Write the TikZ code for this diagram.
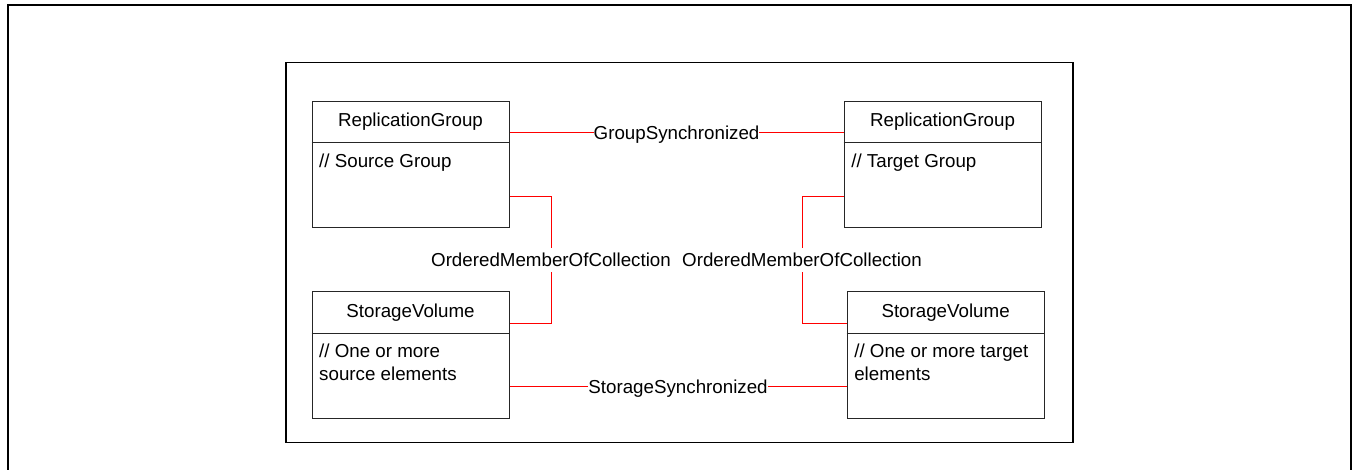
\documentclass[tikz,border=0pt]{standalone}
\usepackage{fontspec}
\setmainfont{Liberation Sans}

\begin{document}
\begin{tikzpicture}[x=0.5pt,y=-0.5pt,
  umlbox/.style={draw=black!85,line width=0.5pt,minimum width=98.5pt,minimum height=63.25pt,inner sep=0pt},
  boxtitle/.style={inner sep=0pt},
  boxbody/.style={anchor=base west,align=left,inner sep=0pt},
  assoc/.style={draw=red,line width=0.5pt},
  assoclabel/.style={fill=white,inner sep=0pt,text height=6.7pt,text depth=0pt,minimum height=11.85pt}]
\fontsize{9.375pt}{11.2pt}\selectfont
\useasboundingbox (0,0) rectangle (1353,470);
\draw[line width=1.15pt] (7.8,470) -- (7.8,5.3) -- (1351.3,5.3) -- (1351.3,470);
\draw[line width=0.7pt] (286,62.5) rectangle (1073,442.5);
% classes
\node[umlbox] (srcgrp) at (410.5,164.7) {};
\node[umlbox] (tgtgrp) at (942.6,164.7) {};
\node[umlbox] (srcvol) at (410.5,355.2) {};
\node[umlbox] (tgtvol) at (945.6,355.2) {};
\foreach \b in {srcgrp,tgtgrp,srcvol,tgtvol}
  \draw[draw=black!85,line width=0.5pt] ([yshift=-21pt]\b.north west) -- ([yshift=-21pt]\b.north east);
\node[boxtitle] (srcgrptitle) at ([yshift=-10.5pt]srcgrp.north) {ReplicationGroup};
\node[boxtitle] (tgtgrptitle) at ([yshift=-10.5pt]tgtgrp.north) {ReplicationGroup};
\node[boxtitle] (srcvoltitle) at ([yshift=-10.5pt]srcvol.north) {StorageVolume};
\node[boxtitle] (tgtvoltitle) at ([yshift=-10.5pt]tgtvol.north) {StorageVolume};
\node[boxbody] (srcgrpbody) at ([xshift=3.65pt,yshift=-33.2pt]srcgrp.north west) {// Source Group};
\node[boxbody] (tgtgrpbody) at ([xshift=3.65pt,yshift=-33.2pt]tgtgrp.north west) {// Target Group};
\node[boxbody] (srcvolbody) at ([xshift=3.65pt,yshift=-44.4pt]srcvol.north west) {// One or more\\source elements};
\node[boxbody] (tgtvolbody) at ([xshift=3.65pt,yshift=-44.4pt]tgtvol.north west) {// One or more target\\elements};
% associations
\draw[assoc] (srcgrp.east |- 0,133) -- node[assoclabel] (grpsync) {GroupSynchronized} (tgtgrp.west |- 0,133);
\draw[assoc] (srcvol.east |- 0,386.5) -- node[assoclabel] (storsync) {StorageSynchronized} (tgtvol.west |- 0,386.5);
\node[assoclabel] (srcmember) at (551,260) {OrderedMemberOfCollection};
\node[assoclabel] (tgtmember) at (802,260) {OrderedMemberOfCollection};
\draw[assoc] (srcgrp.east |- 0,197) -| (srcmember);
\draw[assoc] (srcmember) |- (srcvol.east |- 0,323);
\draw[assoc] (tgtgrp.west |- 0,197) -| (tgtmember);
\draw[assoc] (tgtmember) |- (tgtvol.west |- 0,323);
\end{tikzpicture}
\end{document}
